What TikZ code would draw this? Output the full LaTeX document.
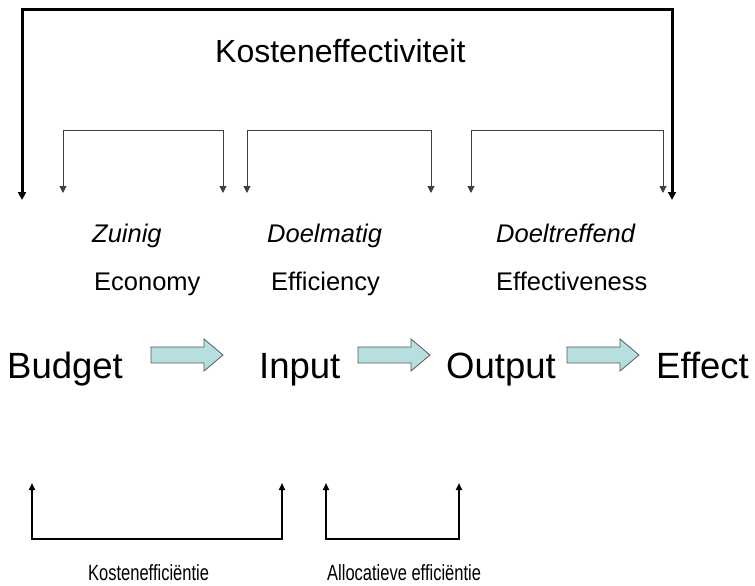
\documentclass[tikz,border=0pt]{standalone}
\usepackage{fontspec}
\setmainfont{Liberation Sans}
\newfontfamily\narrowfont{Liberation Sans}[FakeStretch=0.75]
\usetikzlibrary{arrows.meta}
\definecolor{arrowfill}{RGB}{183,223,224}

\begin{document}
\begin{tikzpicture}[x=1pt, y=-1pt,
		every node/.style={anchor=base west, inner sep=0pt},
		big/.style={font=\fontsize{36.5}{40}\selectfont},
		mid/.style={font=\fontsize{25.5}{30}\selectfont},
		midit/.style={font=\fontsize{25.5}{30}\selectfont\itshape},
		small/.style={font=\narrowfont\fontsize{22}{24}\selectfont},
		thickbracket/.style={line width=3pt, {Triangle[width=8pt,length=8pt]}-{Triangle[width=8pt,length=8pt]}},
		thinbracket/.style={line width=1pt, black!75, {Triangle[width=7pt,length=7pt]}-{Triangle[width=7pt,length=7pt]}},
		lowbracket/.style={line width=2pt, {Triangle[width=6pt,length=7pt]}-{Triangle[width=6pt,length=7pt]}},
		blockarrow/.style={draw=black!65, line width=0.8pt, fill=arrowfill}
		]
	\useasboundingbox (0,0) rectangle (755,586);
	% main chain
	\node [big] (budget) at (7,378) {Budget};
	\node [big] (input) at (259,378) {Input};
	\node [big] (output) at (446,378) {Output};
	\node [big] (effect) at (656,378) {Effect};
	\foreach \x in {151,358,567}
		\draw [blockarrow] (\x,347) -- ++(53,0) -- ++(0,-8) -- ++(19,16) -- ++(-19,16) -- ++(0,-8) -- (\x,363) -- cycle;
	% labels
	\node [big, font=\fontsize{32}{36}\selectfont] (koef) at (215,63) {Kosteneffectiviteit};
	\node [midit] (zuinig) at (92,242) {Zuinig};
	\node [midit] (doelm) at (267,242) {Doelmatig};
	\node [midit] (doeltr) at (496,242) {Doeltreffend};
	\node [mid] (econ) at (94,290) {Economy};
	\node [mid] (effic) at (271,290) {Efficiency};
	\node [mid] (effect2) at (496,290) {Effectiveness};
	\node [small] (koefi) at (88,580) {Kostenefficiëntie};
	\node [small] (alloc) at (327,580) {Allocatieve efficiëntie};
	% brackets
	\coordinate (kl) at (22,200);
	\coordinate (kr) at (672,200);
	\coordinate (ktop) at (0,10);
	\draw [thickbracket] (kl) |- (kr |- ktop) -- (kr);
	\coordinate (ttop) at (0,130);
	\foreach \a/\b [count=\i] in {63/223, 247/431, 471/663} {
		\coordinate (tl\i) at (\a,193);
		\coordinate (tr\i) at (\b,193);
		\draw [thinbracket] (tl\i) |- (tr\i |- ttop) -- (tr\i);
	}
	\coordinate (bbot) at (0,539);
	\coordinate (bl1) at (32,483);
	\coordinate (br1) at (282,483);
	\coordinate (bl2) at (326,483);
	\coordinate (br2) at (459,483);
	\draw [lowbracket] (bl1) |- (br1 |- bbot) -- (br1);
	\draw [lowbracket] (bl2) |- (br2 |- bbot) -- (br2);
\end{tikzpicture}
\end{document}
